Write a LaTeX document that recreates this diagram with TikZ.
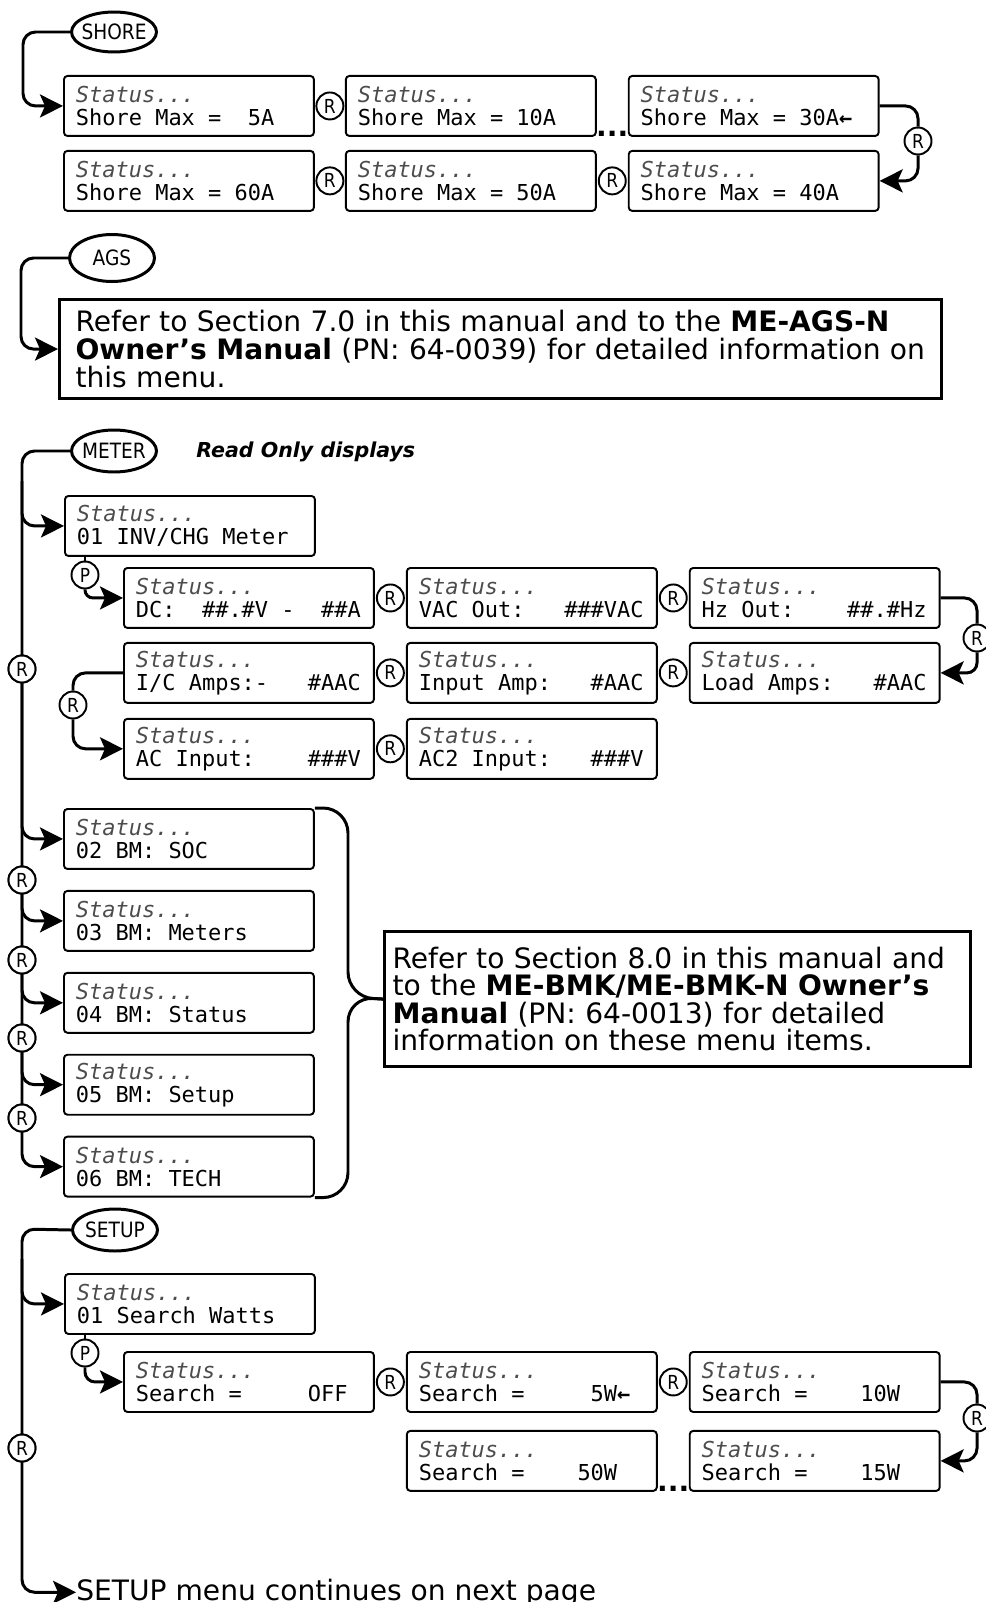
\documentclass[tikz,border=0pt]{standalone}
\usepackage{fontspec}
\setmainfont{DejaVu Sans}[ItalicFont={* Oblique}, BoldItalicFont={* Bold Oblique}]
\setmonofont{DejaVu Sans Mono}[ItalicFont={* Oblique}, BoldFont={* Bold}]
\newfontfamily\condfont{DejaVu Sans}[FakeStretch=0.88]
\usepackage{tikz}
\usetikzlibrary{shapes.geometric, arrows.meta, positioning, calc}

\newcommand\lcdfont{\ttfamily\fontsize{12.5}{13}\selectfont}
\newcommand\infofont{\fontsize{16}{15.7}\selectfont}
\newcommand\menufont{\condfont\fontsize{12}{12}\selectfont}
\newcommand\btnfont{\condfont\fontsize{11}{11}\selectfont}
% full-width spaces on the display (align=left resets \spaceskip)
\newcommand\lcdstatus{\spaceskip=0.602em\relax\xspaceskip=0.602em\relax
    {\itshape\color{black!70}Status...}\\}
\newcommand\lcdarrow{\textbf{←}}

\begin{document}
\begin{tikzpicture}[
    x=0.02cm, y=-0.02cm,
    lcd/.style={rectangle, draw=black, line width=1.1pt, rounded corners=2pt,
                minimum width=5cm, minimum height=1.2cm, inner xsep=0.24cm,
                text width=4.52cm, align=left, font=\lcdfont},
    menu/.style={ellipse, draw=black, line width=1.7pt, inner xsep=-0.05cm,
                 inner ysep=0pt, minimum width=1.7cm, minimum height=0.84cm,
                 font=\menufont},
    btn/.style={circle, draw=black, line width=1.1pt, fill=white,
                minimum size=0.54cm, inner sep=0pt, font=\btnfont},
    info/.style={rectangle, draw=black, line width=1.8pt, align=left,
                 font=\infofont},
    dots/.style={font=\infofont\bfseries, inner sep=0pt, anchor=south},
    wire/.style={line width=1.7pt, rounded corners=0.25cm},
    flow/.style={wire, -{Stealth[length=0.46cm, width=0.46cm, inset=0.1cm]}}
]
\useasboundingbox (0,0) rectangle (985,1602);

%% === SHORE ===
\node[menu, minimum height=0.8cm] (shore) at (114,32) {SHORE};
\node[lcd, anchor=north west] (shore5) at (63,75) {\lcdstatus Shore Max =~~5A};
\node[lcd, right=0.6cm of shore5]  (shore10) {\lcdstatus Shore Max = 10A};
\node[lcd, right=0.62cm of shore10] (shore30) {\lcdstatus Shore Max = 30A\lcdarrow};
\node[lcd, below=0.26cm of shore5]  (shore60) {\lcdstatus Shore Max = 60A};
\node[lcd, below=0.26cm of shore10] (shore50) {\lcdstatus Shore Max = 50A};
\node[lcd, below=0.26cm of shore30] (shore40) {\lcdstatus Shore Max = 40A};

\node[btn] (rshore1) at ($(shore5.east)!0.5!(shore10.west)$) {R};
\node[btn] (rshore2) at ($(shore60.east)!0.5!(shore50.west)$) {R};
\node[btn] (rshore3) at ($(shore50.east)!0.5!(shore40.west)$) {R};
\node[btn] (rshore4) at (918,141) {R};
\node[dots] (shoredots) at ($(shore10.south east)!0.5!(shore30.south west)$) {...};

\coordinate (shorebend) at (23,32);
\draw[flow] (shore.west) -- (shorebend) |- (shore5.west);
\draw[wire] (shore30.east) -| (rshore4.north);
\draw[flow] (rshore4.south) |- (shore40.east);

%% === AGS ===
\node[menu, minimum height=0.94cm] (ags) at (112,258) {AGS};
\node[info, anchor=north west, text width=17.0cm, inner xsep=0.32cm,
      minimum height=1.98cm] (agsinfo) at (58,298)
    {Refer to Section 7.0 in this manual and to the \textbf{ME-AGS-N}\\
     \textbf{Owner’s Manual} (PN: 64-0039) for detailed information on\\
     this menu.};

\coordinate (agsbend) at (21,258);
\draw[flow] (ags.west) -- (agsbend) |- (agsinfo.west);

%% === METER ===
\node[menu] (meter) at (114,451) {METER};
\node[anchor=west, inner sep=0pt, font=\fontsize{11.7}{14}\selectfont\bfseries\itshape]
    (readonly) at (196,452) {Read Only displays};
\node[lcd, anchor=north west] (invchg) at (64,495) {\lcdstatus 01 INV/CHG Meter};
\node[btn] (pinv) at (85,575) {P};

\node[lcd, anchor=north west] (dcmeter) at (123,567) {\lcdstatus DC:~~\#\#.\#V~-~~\#\#A};
\node[lcd, right=0.62cm of dcmeter] (vacout) {\lcdstatus VAC Out:~~~\#\#\#VAC};
\node[lcd, right=0.62cm of vacout]  (hzout)  {\lcdstatus Hz Out:~~~~\#\#.\#Hz};
\node[lcd, below=0.26cm of dcmeter] (icamps)   {\lcdstatus I/C Amps:-~~~\#AAC};
\node[lcd, below=0.26cm of vacout]  (inamp)    {\lcdstatus Input Amp:~~~\#AAC};
\node[lcd, below=0.26cm of hzout]   (loadamps) {\lcdstatus Load Amps:~~~\#AAC};
\node[lcd, below=0.28cm of icamps]  (acin)  {\lcdstatus AC Input:~~~~\#\#\#V};
\node[lcd, below=0.28cm of inamp]   (ac2in) {\lcdstatus AC2 Input:~~~\#\#\#V};

\node[btn] (rdc)   at ($(dcmeter.east)!0.5!(vacout.west)$) {R};
\node[btn] (rvac)  at ($(vacout.east)!0.5!(hzout.west)$) {R};
\node[btn] (ric)   at ($(icamps.east)!0.5!(inamp.west)$) {R};
\node[btn] (rin)   at ($(inamp.east)!0.5!(loadamps.west)$) {R};
\node[btn] (racin) at ($(acin.east)!0.5!(ac2in.west)$) {R};
\node[btn] (rhz)   at (977,638) {R};
\node[btn] (rleft) at (73,705) {R};

%% --- battery monitor items ---
\node[lcd, anchor=north west] (bmsoc) at (63,808) {\lcdstatus 02 BM: SOC};
\node[lcd, below=0.4cm of bmsoc]    (bmmeters) {\lcdstatus 03 BM: Meters};
\node[lcd, below=0.4cm of bmmeters] (bmstatus) {\lcdstatus 04 BM: Status};
\node[lcd, below=0.4cm of bmstatus] (bmsetup)  {\lcdstatus 05 BM: Setup};
\node[lcd, below=0.4cm of bmsetup]  (bmtech)   {\lcdstatus 06 BM: TECH};

\node[btn] (rmeter) at (22,669) {R};
\node[btn] (rbm1) at (22,880) {R};
\node[btn] (rbm2) at (22,960) {R};
\node[btn] (rbm3) at (22,1038) {R};
\node[btn] (rbm4) at (22,1118) {R};

\node[info, anchor=north west, text width=11.4cm, inner xsep=0.16cm,
      minimum height=2.7cm] (bmkinfo) at (383,930)
    {Refer to Section 8.0 in this manual and\\
     to the \textbf{ME-BMK/ME-BMK-N Owner’s}\\
     \textbf{Manual} (PN: 64-0013) for detailed\\
     information on these menu items.};

%% --- meter arrows ---
\coordinate (metertop) at (22,451);
\draw[flow] (meter.west) -- (metertop) |- (bmtech.west);
\draw[flow] ($(metertop)+(0,30)$) |- (invchg.west);
\draw[wire] (invchg.south -| pinv) -- (pinv.north);
\draw[flow, rounded corners=0.16cm] (pinv.south) |- (dcmeter.west);
\draw[wire] (hzout.east) -| (rhz.north);
\draw[flow, rounded corners=0.2cm] (rhz.south) |- (loadamps.east);
\draw[wire] (icamps.west) -| (rleft.north);
\draw[flow] (rleft.south) |- (acin.west);
\draw[flow] (rmeter.south) |- (bmsoc.west);
\draw[flow] (rbm1.south) |- (bmmeters.west);
\draw[flow] (rbm2.south) |- (bmstatus.west);
\draw[flow] (rbm3.south) |- (bmsetup.west);
\foreach \r in {rmeter, rbm1, rbm2, rbm3, rbm4}
    \node[btn] at (\r) {R};

%% --- brace ---
\coordinate (bracex) at (348,997);
\draw[wire, rounded corners=0.5cm] (bmsoc.north east) -| (bracex) -- (bmkinfo.west);
\draw[wire, rounded corners=0.5cm] (bmtech.south east) -| (bracex) -- (bmkinfo.west);

%% === SETUP ===
\node[menu] (setup) at (115,1230) {SETUP};
\node[lcd, anchor=north west] (srchwatts) at (64,1273) {\lcdstatus 01 Search Watts};
\node[btn] (psrch) at (85,1353) {P};

\node[lcd, anchor=north west] (srchoff) at (123,1351) {\lcdstatus Search =~~~~~OFF};
\node[lcd, right=0.62cm of srchoff] (srch5)  {\lcdstatus Search =~~~~~5W\lcdarrow};
\node[lcd, right=0.62cm of srch5]   (srch10) {\lcdstatus Search =~~~~10W};
\node[lcd, below=0.34cm of srch5]   (srch50) {\lcdstatus Search =~~~~50W};
\node[lcd, below=0.34cm of srch10]  (srch15) {\lcdstatus Search =~~~~15W};

\node[btn] (roff) at ($(srchoff.east)!0.5!(srch5.west)$) {R};
\node[btn] (r5w)  at ($(srch5.east)!0.5!(srch10.west)$) {R};
\node[btn] (r10w) at (977,1418) {R};
\node[dots] (srchdots) at ($(srch50.south east)!0.5!(srch15.south west)$) {...};
\node[btn] (rsetup) at (22,1448) {R};

\node[anchor=base west, inner sep=0pt, font=\infofont] (nextpage) at (76,1600)
    {SETUP menu continues on next page};

\coordinate (setuptop) at (22,1229);
\draw[flow] (setup.west) -- (setuptop) |- (nextpage.west);
\draw[flow] ($(setuptop)+(0,30)$) |- (srchwatts.west);
\draw[wire] (srchwatts.south -| psrch) -- (psrch.north);
\draw[flow, rounded corners=0.2cm] (psrch.south) |- (srchoff.west);
\draw[wire] (srch10.east) -| (r10w.north);
\draw[flow] (r10w.south) |- (srch15.east);
\node[btn] at (rsetup) {R};

\end{tikzpicture}
\end{document}
